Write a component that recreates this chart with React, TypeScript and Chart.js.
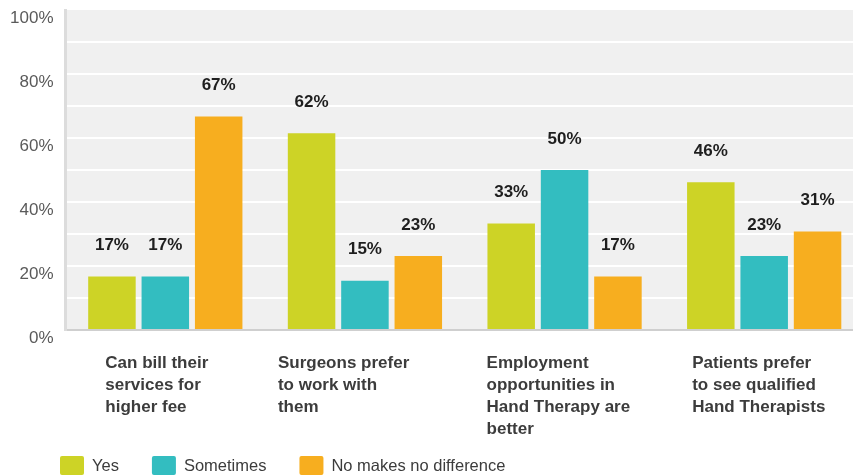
import { useEffect, useRef } from 'react';
import { Chart, registerables } from 'chart.js';

Chart.register(...registerables);

// ---- data ----
const categories: string[][] = [
  ['Can bill their', 'services for', 'higher fee'],
  ['Surgeons prefer', 'to work with', 'them'],
  ['Employment', 'opportunities in', 'Hand Therapy are', 'better'],
  ['Patients prefer', 'to see qualified', 'Hand Therapists'],
];
const seriesNames = ['Yes', 'Sometimes', 'No makes no difference'];
const yesValues = [16.7, 61.5, 33.3, 46.2];
const sometimesValues = [16.7, 15.4, 50, 23.1];
const noDiffValues = [66.7, 23.1, 16.7, 30.8];
const yTickLabelValues = [0, 20, 40, 60, 80, 100];

// ---- style ----
const colors = ['#cdd326', '#33bdc0', '#f7ae1f'];
const FONT = '"Liberation Sans", Arial, sans-serif';
const catLabelShift = [-60, -87, -78, -72];

const bgPlugin = {
  id: 'plotBg',
  beforeDraw(chart: any) {
    const { ctx, chartArea: a } = chart;
    ctx.save();
    ctx.fillStyle = '#f0f0f0';
    ctx.fillRect(a.left, a.top, a.right - a.left, a.bottom - a.top);
    ctx.restore();
  },
};

const textPlugin = {
  id: 'texts',
  afterDraw(chart: any) {
    const { ctx, chartArea: a } = chart;
    const xScale = chart.scales.x;
    ctx.save();
    // data labels
    ctx.font = `bold 17px ${FONT}`;
    ctx.fillStyle = '#1e1e1e';
    ctx.textAlign = 'center';
    ctx.textBaseline = 'middle';
    chart.data.datasets.forEach((ds: any, di: number) => {
      const meta = chart.getDatasetMeta(di);
      meta.data.forEach((el: any, i: number) => {
        ctx.fillText(Math.round(ds.data[i]) + '%', el.x, el.y - 31);
      });
    });
    // category labels
    ctx.font = `bold 17px ${FONT}`;
    ctx.fillStyle = '#3c3c3c';
    ctx.textAlign = 'left';
    categories.forEach((lines, i) => {
      const cx = xScale.getPixelForValue(i);
      const left = cx + catLabelShift[i];
      lines.forEach((ln, li) => {
        ctx.fillText(ln, left, a.bottom + 33 + li * 22);
      });
    });
    // legend
    ctx.font = `16.5px ${FONT}`;
    ctx.fillStyle = '#3c3c3c';
    let x = 60;
    const boxTop = 456;
    chart.data.datasets.forEach((ds: any) => {
      ctx.fillStyle = ds.backgroundColor;
      ctx.beginPath();
      if ((ctx as any).roundRect) (ctx as any).roundRect(x, boxTop, 24, 19, 2);
      else ctx.rect(x, boxTop, 24, 19);
      ctx.fill();
      ctx.fillStyle = '#3c3c3c';
      ctx.fillText(ds.label, x + 32, boxTop + 10);
      x += 32 + ctx.measureText(ds.label).width + 33;
    });
    ctx.restore();
  },
};

export default function App() {
  const ref = useRef<HTMLCanvasElement | null>(null);
  useEffect(() => {
    if (!ref.current) return;
    const chart = new Chart(ref.current, {
      type: 'bar',
      data: {
        labels: categories.map((c) => c.join(' ')),
        datasets: [yesValues, sometimesValues, noDiffValues].map((d, i) => ({
          label: seriesNames[i],
          data: d,
          backgroundColor: colors[i],
          borderWidth: 0,
          categoryPercentage: 0.802,
          barPercentage: 0.89,
        })),
      },
      options: {
        animation: false,
        responsive: true,
        maintainAspectRatio: false,
        layout: { padding: { top: 10, bottom: 146, left: 0, right: 0 } },
        plugins: {
          legend: { display: false },
          tooltip: { enabled: false },
        },
        scales: {
          x: {
            grid: { display: false, drawTicks: false },
            ticks: { display: false },
            border: { color: '#cfcfcf', width: 2 },
          },
          y: {
            min: 0,
            max: 100,
            afterFit(scale: any) {
              scale.width = 65.5;
              scale.paddingTop = 0;
              scale.paddingBottom = 0;
            },
            ticks: {
              stepSize: 10,
              padding: 12,
              labelOffset: 8,
              color: '#5a5a5a',
              font: { family: FONT, size: 17 },
              callback: (v: any) => (yTickLabelValues.includes(Number(v)) ? v + '%' : ''),
            },
            grid: {
              drawTicks: false,
              lineWidth: 2,
              color: (c: any) =>
                c.tick && (c.tick.value === 100 || c.tick.value === 0) ? 'rgba(0,0,0,0)' : '#ffffff',
            },
            border: { color: '#dcdcdc', width: 3 },
          },
        },
      },
      plugins: [bgPlugin, textPlugin],
    });
    return () => chart.destroy();
  }, []);
  return (
    <div
      style={{
        position: 'fixed',
        left: 0,
        top: 0,
        width: 853,
        height: 476,
        overflow: 'hidden',
        background: '#fff',
      }}
    >
      <div style={{ position: 'relative', width: 864, height: 476 }}>
        <canvas ref={ref} />
      </div>
    </div>
  );
}
